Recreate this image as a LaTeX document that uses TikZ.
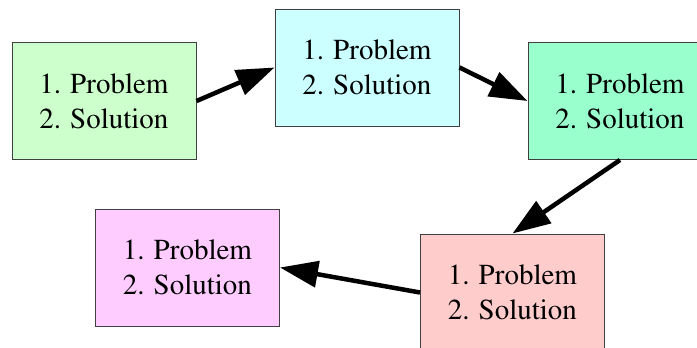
\documentclass[tikz,border=0pt]{standalone}
\usepackage[T1]{fontenc}
\renewcommand{\rmdefault}{ptm}
\usetikzlibrary{arrows.meta}
\definecolor{cgreen}{HTML}{CCFFCC}
\definecolor{ccyan}{HTML}{CCFFFF}
\definecolor{cmint}{HTML}{99FFCC}
\definecolor{cpink}{HTML}{FFCCCC}
\definecolor{cmag}{HTML}{FFCCFF}
\tikzset{
  pbox/.style={draw=black!75, line width=1pt, minimum width=184pt, minimum height=117pt,
    align=center, inner sep=0pt, font=\rmfamily\fontsize{29}{35}\selectfont},
  conn/.style={line width=4.5pt, -{Triangle[length=38pt,width=26pt]}}
}
\begin{document}
\begin{tikzpicture}[x=1pt,y=-1pt]
\useasboundingbox (0,0) rectangle (697,348);
\node[pbox, fill=cgreen] (b1) at (104,101) {1. Problem\\2. Solution};
\node[pbox, fill=ccyan] (b2) at (367,67.5) {1. Problem\\2. Solution};
\node[pbox, fill=cmint] (b3) at (620,101) {1. Problem\\2. Solution};
\node[pbox, fill=cpink] (b4) at (512.5,292.5) {1. Problem\\2. Solution};
\node[pbox, fill=cmag] (b5) at (187.5,267.5) {1. Problem\\2. Solution};
\draw[conn] (b1.east) -- (b2.west);
\draw[conn] (b2.east) -- (b3.west);
\draw[conn] (b3.south) -- (b4.north);
\draw[conn] (b4.west) -- (b5.east);
\end{tikzpicture}
\end{document}
